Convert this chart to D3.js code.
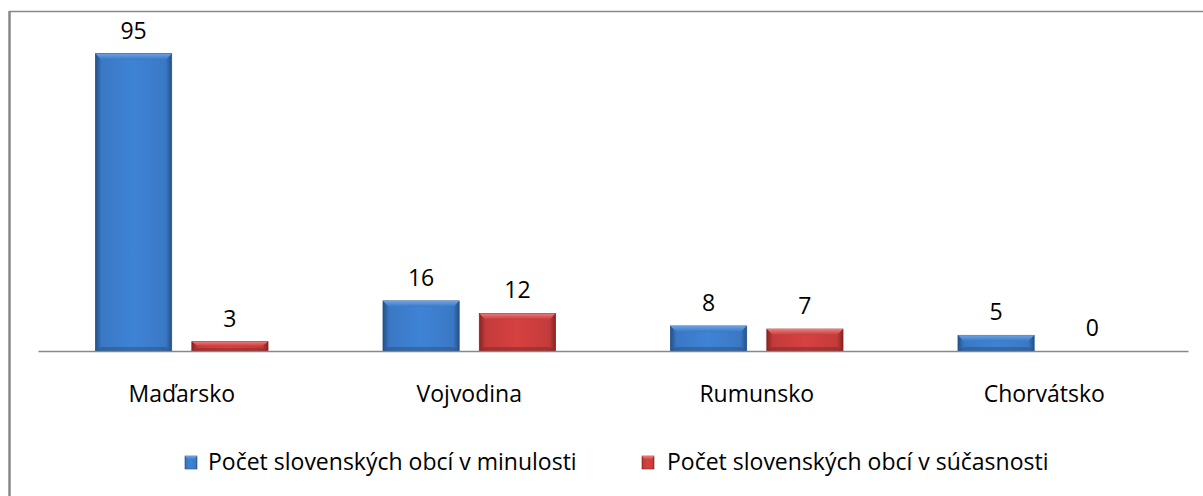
<!DOCTYPE html>
<html><head><meta charset="utf-8">
<script src="https://cdn.jsdelivr.net/npm/d3@7"></script>
<style>body{margin:0;background:#fff}svg{display:block}text{font-family:"Open Sans",sans-serif;fill:#000}</style>
</head><body><svg id="c" width="1203" height="496"></svg>
<script>
const categories = ["Maďarsko","Vojvodina","Rumunsko","Chorvátsko"];
const seriesNames = ["Počet slovenských obcí v minulosti","Počet slovenských obcí v súčasnosti"];
const minulost = [95,16,8,5];
const sucasnost = [3,12,7,0];
const colors = [{base:"#3a78c4",light:"#6aa3e6",dark:"#24518a"},{base:"#c43b3b",light:"#ef7b7b",dark:"#8a2222"}];

const svg = d3.select("#c");
const defs = svg.append("defs");
colors.forEach((c,i)=>{
  const g = defs.append("linearGradient").attr("id","h"+i).attr("x1",0).attr("x2",1).attr("y1",0).attr("y2",0);
  g.append("stop").attr("offset","0").attr("stop-color",c.dark);
  g.append("stop").attr("offset","0.08").attr("stop-color",c.base);
  g.append("stop").attr("offset","0.5").attr("stop-color",d3.color(c.base).brighter(0.25));
  g.append("stop").attr("offset","0.92").attr("stop-color",c.base);
  g.append("stop").attr("offset","1").attr("stop-color",c.dark);
  const v = defs.append("linearGradient").attr("id","v"+i).attr("x1",0).attr("x2",0).attr("y1",0).attr("y2",1);
  v.append("stop").attr("offset","0").attr("stop-color",c.light);
  v.append("stop").attr("offset","1").attr("stop-color",c.base);
});

// border
svg.append("line").attr("x1",9).attr("x2",1203).attr("y1",11.5).attr("y2",11.5).attr("stroke","#888").attr("stroke-width",1.5);
svg.append("line").attr("x1",9.5).attr("x2",9.5).attr("y1",11).attr("y2",496).attr("stroke","#888").attr("stroke-width",2.5);

const x0 = d3.scaleBand().domain(categories).range([38,1188]).paddingInner(0).paddingOuter(0);
const x1 = d3.scaleBand().domain([0,1]).range([57.5,x0.bandwidth()-57.5]).paddingInner(18/172*2).paddingOuter(0);
const y = d3.scaleLinear().domain([0,100]).range([351,38]);

const data = categories.map((c,i)=>({cat:c, vals:[minulost[i],sucasnost[i]]}));
const g = svg.append("g");
data.forEach(d=>{
  d.vals.forEach((v,s)=>{
    const bx = x0(d.cat)+x1(s), bw = x1.bandwidth(), by = y(v), bh = y(0)-y(v);
    if (bh>0){
      g.append("rect").attr("x",bx).attr("y",by).attr("width",bw).attr("height",bh).attr("fill",`url(#h${s})`).attr("stroke",colors[s].dark).attr("stroke-width",0.8);
      const bev = Math.min(6,bh*0.5);
      g.append("path").attr("d",`M${bx},${by}L${bx+bw},${by}L${bx+bw-6},${by+bev}L${bx+6},${by+bev}Z`).attr("fill",`url(#v${s})`);
      g.append("path").attr("d",`M${bx},${by+bh}L${bx+bw},${by+bh}L${bx+bw-6},${by+bh-Math.min(4,bh*0.3)}L${bx+6},${by+bh-Math.min(4,bh*0.3)}Z`).attr("fill",colors[s].dark).attr("opacity",0.5);
    }
    g.append("text").attr("x",bx+bw/2).attr("y",by-15).attr("text-anchor","middle").attr("font-size",23).text(v);
  });
});

// axis
const xAxis = d3.axisBottom(x0).tickSize(0).tickPadding(0);
const ax = svg.append("g").attr("transform","translate(0,351)").call(xAxis);
ax.select(".domain").attr("stroke","#888").attr("stroke-width",1.5);
ax.selectAll("text").attr("font-size",23).attr("dy",0).attr("y",51).style("font-family","Open Sans").attr("fill","#000");

// legend
const legX = [185,642];
const legTextX = [23,25];
seriesNames.forEach((n,i)=>{
  const lg = svg.append("g").attr("transform",`translate(${legX[i]},456)`);
  lg.append("rect").attr("width",12).attr("height",13).attr("fill",`url(#h${i})`).attr("stroke",colors[i].dark).attr("stroke-width",0.6);
  lg.append("path").attr("d","M0,0L12,0L9,4L3,4Z").attr("fill",`url(#v${i})`);
  lg.append("text").attr("x",legTextX[i]).attr("y",14).attr("font-size",23).text(n);
});
</script></body></html>
